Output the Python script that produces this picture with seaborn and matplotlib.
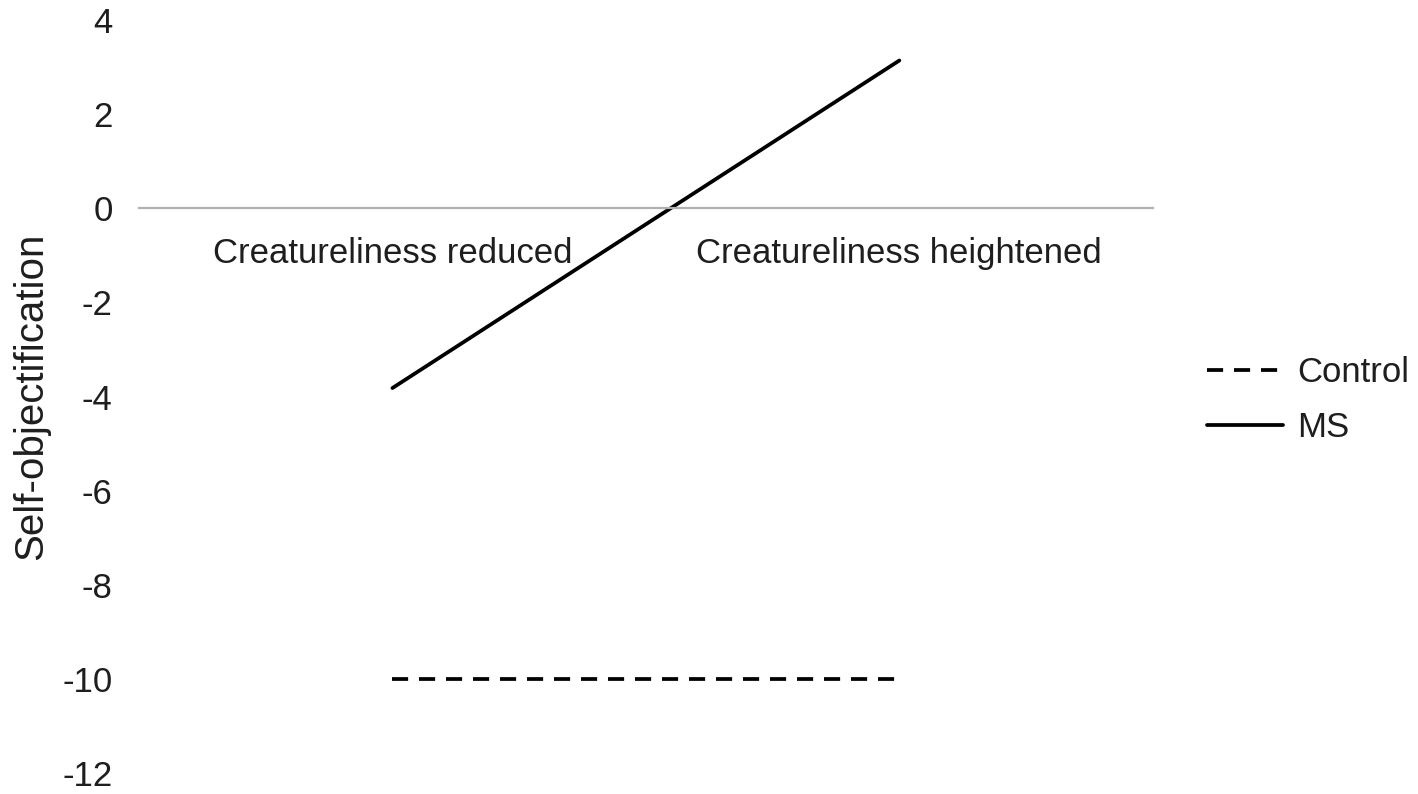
import pandas as pd
import seaborn as sns
import matplotlib.pyplot as plt
from matplotlib.lines import Line2D

# valores
conditions = ['Creatureliness reduced', 'Creatureliness heightened']
groups = ['Control', 'MS']
control_vals = [-10.0, -10.0]
ms_vals = [-3.82, 3.14]
y_ticks = [4, 2, 0, -2, -4, -6, -8, -10, -12]

df = pd.DataFrame({
    'condition': conditions * 2,
    'group': [groups[0]] * 2 + [groups[1]] * 2,
    'value': control_vals + ms_vals,
})

sns.set_style('white')
plt.rcParams['font.family'] = ['Liberation Sans', 'DejaVu Sans']

fs = 25
txt_color = '#1e1e1e'
lw = 2.7
dash = (4.3, 2.9)

fig = plt.figure(figsize=(14.18, 7.94), dpi=100)
ax = fig.add_axes([0.098, 0.0264, 0.715, 0.9484])

sns.lineplot(data=df, x='condition', y='value', style='group',
             dashes={'Control': dash, 'MS': ''},
             color='black', linewidth=lw, ax=ax, legend=False)

ax.set_xlim(-0.5, 1.5)
ax.set_ylim(-12, 4)
ax.set_yticks(y_ticks)
ax.set_yticklabels([str(t) for t in y_ticks], fontsize=fs, color=txt_color)

for s in ['top', 'right', 'left']:
    ax.spines[s].set_visible(False)
ax.spines['bottom'].set_position(('data', 0))
ax.spines['bottom'].set_color('#b0b0b0')
ax.spines['bottom'].set_linewidth(1.6)
ax.tick_params(axis='x', length=0, pad=21, labelsize=fs, labelcolor=txt_color)
ax.tick_params(axis='y', length=0, pad=19)
ax.set_xlabel('')
ax.set_ylabel('Self-objectification', fontsize=29, color=txt_color, labelpad=9)

# leyenda
handles = [Line2D([], [], color='black', linewidth=lw, dashes=dash),
           Line2D([], [], color='black', linewidth=lw)]
fig.legend(handles, groups, loc='center left', bbox_to_anchor=(0.829, 0.496),
           frameon=False, fontsize=fs, handlelength=2.2, handletextpad=0.4,
           labelspacing=0.62, labelcolor=txt_color)

fig.savefig('out.png', dpi=100)
